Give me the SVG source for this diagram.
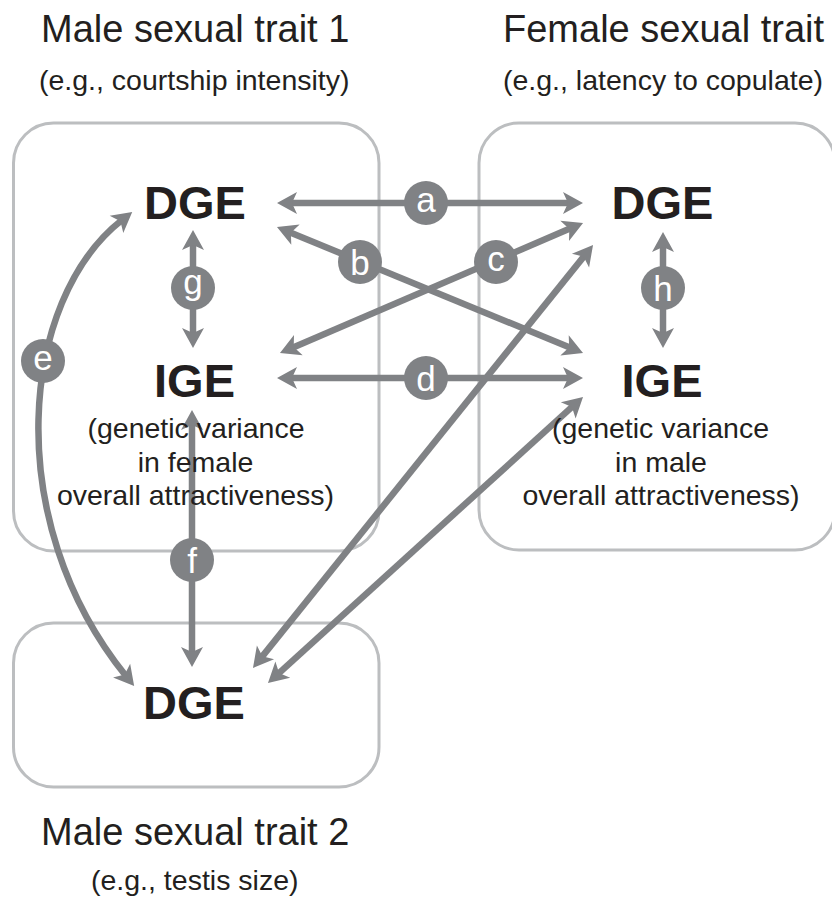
<svg xmlns="http://www.w3.org/2000/svg" width="832" height="900" viewBox="0 0 832 900">
<style>
.box{fill:none;stroke:#bcbec0;stroke-width:3}
.title{font-family:"Liberation Sans",Arial,sans-serif;font-size:38px;fill:#231f20}
.sub{font-family:"Liberation Sans",Arial,sans-serif;font-size:28.5px;fill:#231f20}
.big{font-family:"Liberation Sans",Arial,sans-serif;font-size:47px;font-weight:bold;fill:#231f20;text-anchor:middle}
.desc{font-family:"Liberation Sans",Arial,sans-serif;font-size:28.5px;fill:#231f20;text-anchor:middle}
.conn{fill:none;stroke:#808285;stroke-width:6.5;marker-start:url(#ah);marker-end:url(#ah)}
.lab circle{fill:#808285}
.lab text{font-family:"Liberation Sans",Arial,sans-serif;font-size:35px;fill:#ffffff;text-anchor:middle}
</style>
<defs>
<marker id="ah" viewBox="0 -12 22 24" markerWidth="22" markerHeight="24" refX="7" refY="0" orient="auto-start-reverse" markerUnits="userSpaceOnUse" overflow="visible">
<path d="M20,0 L0,-11 L5,0 L0,11 Z" fill="#808285"/>
</marker>
</defs>
<rect width="832" height="900" fill="#ffffff"/>

<g id="titles">
<text class="title" x="41" y="42">Male sexual trait 1</text>
<text class="sub" x="39" y="90">(e.g., courtship intensity)</text>
<text class="title" x="503" y="42">Female sexual trait</text>
<text class="sub" x="503" y="90">(e.g., latency to copulate)</text>
<text class="title" x="41" y="845">Male sexual trait 2</text>
<text class="sub" x="91" y="890">(e.g., testis size)</text>
</g>

<g id="box-male1"><rect class="box" x="13.5" y="123" width="365.5" height="428" rx="40"/></g>
<g id="box-female"><rect class="box" x="479" y="123" width="356" height="427" rx="40"/></g>
<g id="box-male2"><rect class="box" x="13.5" y="623" width="365.5" height="164" rx="40"/></g>

<g id="connectors">
<path class="conn" d="M290,203 H570"/>
<path class="conn" d="M290,378 H570"/>
<path class="conn" d="M289,232 L571,348"/>
<path class="conn" d="M571.1,228.1 L291.9,347.9"/>
<path class="conn" d="M193,243 V335"/>
<path class="conn" d="M663,245 V335"/>
<path class="conn" d="M192,423 V654"/>
<path class="conn" d="M261.1,657.9 L584.9,255.1"/>
<path class="conn" d="M277.6,674.3 L573.4,405.7"/>
<path class="conn" d="M122,220 C20,300 0,520 126,676"/>
</g>

<g id="node-dge-m1"><text class="big" x="195" y="219">DGE</text></g>
<g id="node-ige-m1">
<text class="big" x="194.5" y="397">IGE</text>
<text class="desc" x="196" y="438">(genetic variance</text>
<text class="desc" x="195.5" y="472">in female</text>
<text class="desc" x="195.5" y="505">overall attractiveness)</text>
</g>
<g id="node-dge-f"><text class="big" x="662.5" y="219">DGE</text></g>
<g id="node-ige-f">
<text class="big" x="662" y="397">IGE</text>
<text class="desc" x="660.5" y="438">(genetic variance</text>
<text class="desc" x="661" y="472">in male</text>
<text class="desc" x="661" y="505">overall attractiveness)</text>
</g>
<g id="node-dge-m2"><text class="big" x="194" y="719">DGE</text></g>

<g id="labels" class="lab">
<circle cx="426" cy="203" r="22"/><text x="426" y="212">a</text>
<circle cx="360" cy="262" r="22"/><text x="360" y="274.5">b</text>
<circle cx="496" cy="262" r="22"/><text x="496" y="271">c</text>
<circle cx="426" cy="378" r="22"/><text x="426" y="390.5">d</text>
<circle cx="43" cy="361" r="22"/><text x="43" y="370">e</text>
<circle cx="192" cy="560" r="22"/><text x="192" y="572.5">f</text>
<circle cx="193" cy="288" r="22"/><text x="193" y="293.5">g</text>
<circle cx="663" cy="288" r="22"/><text x="663" y="300.5">h</text>
</g>
</svg>
